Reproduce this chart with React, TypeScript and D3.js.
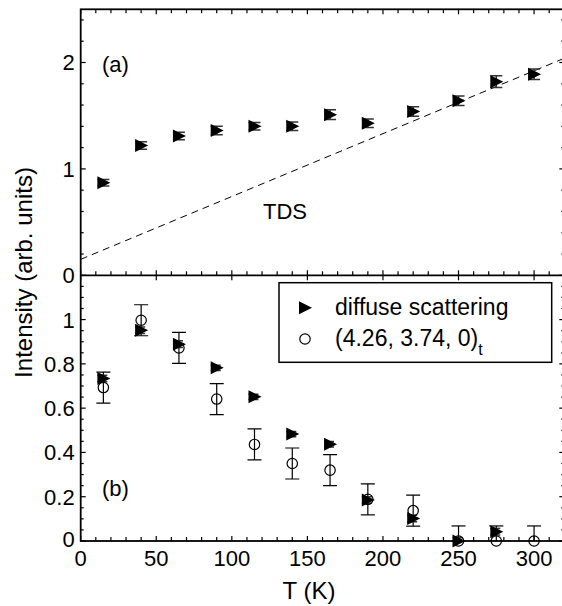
import React, { useEffect, useRef } from 'react';
import * as d3 from 'd3';

// temperatures (K)
const temps = [15, 40, 65, 90, 115, 140, 165, 190, 220, 250, 275, 300];

// panel (a): total diffuse intensity
const diffuseTotal = [0.87, 1.22, 1.31, 1.36, 1.40, 1.40, 1.51, 1.43, 1.54, 1.64, 1.82, 1.89];
const diffuseTotalErr = [0.03, 0.035, 0.035, 0.04, 0.035, 0.04, 0.045, 0.04, 0.045, 0.045, 0.055, 0.05];

// TDS estimate (dashed line)
const tdsT = [0, 320];
const tdsI = [0.15, 2.04];

// panel (b): diffuse scattering minus TDS, and the (4.26, 3.74, 0)t peak
const diffuseTemps = [15, 40, 65, 90, 115, 140, 165, 190, 220, 250, 275];
const diffuseNet = [0.734, 0.952, 0.889, 0.782, 0.651, 0.483, 0.437, 0.185, 0.102, 0.0, 0.042];
const diffuseNetErr = [0.015, 0.015, 0.015, 0.012, 0.012, 0.012, 0.012, 0.015, 0.015, 0.015, 0.015];
const peak = [0.693, 0.997, 0.872, 0.641, 0.436, 0.350, 0.320, 0.188, 0.137, 0.0, 0.0, 0.0];
const peakErr = [0.07, 0.07, 0.07, 0.07, 0.07, 0.07, 0.07, 0.07, 0.07, 0.068, 0.068, 0.068];

const topTickLabels = ['0', '1', '2'];
const bottomTickLabels = ['0', '0.2', '0.4', '0.6', '0.8', '1'];
const xTickLabels = ['0', '50', '100', '150', '200', '250', '300'];

const FONT = '"Liberation Sans", Arial, Helvetica, sans-serif';
const TRI = 'M -6,-6.5 L 7,0 L -6,6.5 Z';

export default function App() {
  const ref = useRef<SVGSVGElement>(null);

  useEffect(() => {
    const svg = d3.select(ref.current);
    svg.selectAll('*').remove();

    const left = 80.7, right = 564.3, top = 9.3, mid = 275.3, bottom = 541;

    const x = d3.scaleLinear().domain([0, 320]).range([left, right]);
    const yA = d3.scaleLinear().domain([0, 2.5]).range([mid, top]);
    const yB = d3.scaleLinear().domain([0, 1.2]).range([bottom, mid]);

    svg.append('clipPath').attr('id', 'clipA')
      .append('rect').attr('x', left).attr('y', top).attr('width', right - left).attr('height', mid - top);
    svg.append('clipPath').attr('id', 'clipB')
      .append('rect').attr('x', left).attr('y', mid).attr('width', right - left).attr('height', bottom - mid);

    const ticks = svg.append('g').attr('stroke', '#000').attr('stroke-width', 1.2);
    const tick = (x1: number, y1: number, x2: number, y2: number) =>
      ticks.append('line').attr('x1', x1).attr('y1', y1).attr('x2', x2).attr('y2', y2);

    // x ticks: minor every 10, major every 50
    d3.range(0, 321, 10).forEach(t => {
      const px = x(t);
      const major = t % 50 === 0;
      const len = major ? 5 : 4;
      tick(px, top, px, top + len);          // top border, inward
      tick(px, mid, px, mid - len);          // panel (a) bottom, inward
      if (major) tick(px, mid, px, mid + 5); // panel (b) top
      tick(px, bottom, px, bottom - len);    // panel (b) bottom, inward
    });

    // y ticks panel (a)
    d3.range(0, 2.5, 0.2).forEach(v => {
      const major = Math.abs(v - Math.round(v)) < 1e-6;
      const len = major ? 5 : 3;
      tick(left, yA(v), left + len, yA(v));
      tick(right, yA(v), right - len, yA(v));
    });
    // y ticks panel (b)
    d3.range(0, 1.2, 0.05).forEach(v => {
      const major = Math.abs(v * 5 - Math.round(v * 5)) < 1e-6;
      const len = major ? 5 : 3;
      tick(left, yB(v), left + len, yB(v));
      tick(right, yB(v), right - len, yB(v));
    });

    // frame
    const frame = svg.append('g').attr('stroke', '#000').attr('fill', 'none').attr('stroke-width', 1.8);
    frame.append('rect').attr('x', left).attr('y', top).attr('width', right - left).attr('height', bottom - top);
    frame.append('line').attr('x1', left).attr('x2', right).attr('y1', mid).attr('y2', mid);

    // tick labels
    const labels = svg.append('g').attr('font-family', FONT).attr('font-size', 22).attr('fill', '#000');
    topTickLabels.forEach((s, i) => {
      labels.append('text').attr('x', left - 6).attr('y', yA(i)).attr('dy', '0.36em')
        .attr('text-anchor', 'end').text(s);
    });
    bottomTickLabels.forEach((s, i) => {
      if (i === 0) return;
      labels.append('text').attr('x', left - 6).attr('y', yB(i * 0.2)).attr('dy', '0.36em')
        .attr('text-anchor', 'end').text(s);
    });
    labels.append('text').attr('x', left - 6).attr('y', yB(0) - 2).attr('dy', '0.36em')
      .attr('text-anchor', 'end').text('0');
    xTickLabels.forEach((s, i) => {
      labels.append('text').attr('x', x(i * 50)).attr('y', bottom + 25)
        .attr('text-anchor', 'middle').text(s);
    });

    // axis titles
    svg.append('text').attr('font-family', FONT).attr('font-size', 24)
      .attr('transform', `translate(32,272.5) rotate(-90)`).attr('text-anchor', 'middle')
      .text('Intensity (arb. units)');
    svg.append('text').attr('font-family', FONT).attr('font-size', 24)
      .attr('x', 309).attr('y', 599).attr('text-anchor', 'middle').text('T (K)');

    // panel annotations
    svg.append('text').attr('font-family', FONT).attr('font-size', 22)
      .attr('x', 102).attr('y', 72).text('(a)');
    svg.append('text').attr('font-family', FONT).attr('font-size', 22)
      .attr('x', 102).attr('y', 496).text('(b)');
    svg.append('text').attr('font-family', FONT).attr('font-size', 22)
      .attr('x', 263).attr('y', 219).text('TDS');

    // panel (a)
    const gA = svg.append('g').attr('clip-path', 'url(#clipA)');
    const tdsLine = d3.line<number>().x((_, i) => x(tdsT[i])).y(d => yA(d));
    gA.append('path').attr('d', tdsLine(tdsI)).attr('fill', 'none')
      .attr('stroke', '#000').attr('stroke-width', 1).attr('stroke-dasharray', '7,5');

    const errA = gA.append('g').attr('stroke', '#333').attr('stroke-width', 1.5);
    temps.forEach((t, i) => {
      const px = x(t);
      const y1 = yA(diffuseTotal[i] - diffuseTotalErr[i]);
      const y2 = yA(diffuseTotal[i] + diffuseTotalErr[i]);
      errA.append('line').attr('x1', px).attr('x2', px).attr('y1', y1).attr('y2', y2);
      errA.append('line').attr('x1', px - 6).attr('x2', px + 6).attr('y1', y1).attr('y2', y1);
      errA.append('line').attr('x1', px - 6).attr('x2', px + 6).attr('y1', y2).attr('y2', y2);
    });
    svg.append('g').selectAll('path').data(temps).join('path')
      .attr('d', TRI).attr('fill', '#000')
      .attr('transform', (t, i) => `translate(${x(t)},${yA(diffuseTotal[i])})`);

    // panel (b)
    const gB = svg.append('g').attr('clip-path', 'url(#clipB)');
    const errP = gB.append('g').attr('stroke', '#000').attr('stroke-width', 1.2);
    temps.forEach((t, i) => {
      const px = x(t);
      const y1 = yB(peak[i] - peakErr[i]);
      const y2 = yB(peak[i] + peakErr[i]);
      errP.append('line').attr('x1', px).attr('x2', px).attr('y1', y1).attr('y2', y2);
      errP.append('line').attr('x1', px - 7).attr('x2', px + 7).attr('y1', y1).attr('y2', y1);
      errP.append('line').attr('x1', px - 7).attr('x2', px + 7).attr('y1', y2).attr('y2', y2);
    });
    svg.append('g').selectAll('circle').data(temps).join('circle')
      .attr('cx', t => x(t)).attr('cy', (t, i) => yB(peak[i])).attr('r', 5.2)
      .attr('fill', 'none').attr('stroke', '#000').attr('stroke-width', 1.2);

    const errB = gB.append('g').attr('stroke', '#333').attr('stroke-width', 1.5);
    diffuseTemps.forEach((t, i) => {
      const px = x(t);
      const y1 = yB(diffuseNet[i] - diffuseNetErr[i]);
      const y2 = yB(diffuseNet[i] + diffuseNetErr[i]);
      errB.append('line').attr('x1', px - 6).attr('x2', px + 4).attr('y1', y1).attr('y2', y1);
      errB.append('line').attr('x1', px - 6).attr('x2', px + 4).attr('y1', y2).attr('y2', y2);
    });
    svg.append('g').selectAll('path').data(diffuseTemps).join('path')
      .attr('d', TRI).attr('fill', '#000')
      .attr('transform', (t, i) => `translate(${x(t)},${yB(diffuseNet[i])})`);

    // legend
    const lg = svg.append('g');
    lg.append('rect').attr('x', 279).attr('y', 282.7).attr('width', 272.7).attr('height', 79.6)
      .attr('fill', '#fff').attr('stroke', '#000').attr('stroke-width', 1.5);
    lg.append('path').attr('d', TRI).attr('fill', '#000').attr('transform', 'translate(305,307.7)');
    lg.append('circle').attr('cx', 305).attr('cy', 339).attr('r', 5.2)
      .attr('fill', 'none').attr('stroke', '#000').attr('stroke-width', 1.2);
    lg.append('text').attr('font-family', FONT).attr('font-size', 23)
      .attr('x', 335).attr('y', 315).text('diffuse scattering');
    const t2 = lg.append('text').attr('font-family', FONT).attr('font-size', 23)
      .attr('x', 335).attr('y', 346);
    t2.append('tspan').text('(4.26, 3.74, 0)');
    t2.append('tspan').attr('font-size', 16).attr('dy', 9).text('t');
  }, []);

  return (
    <svg ref={ref} width={562} height={606}
      style={{ position: 'absolute', left: 0, top: 0, background: '#fff', display: 'block' }} />
  );
}
